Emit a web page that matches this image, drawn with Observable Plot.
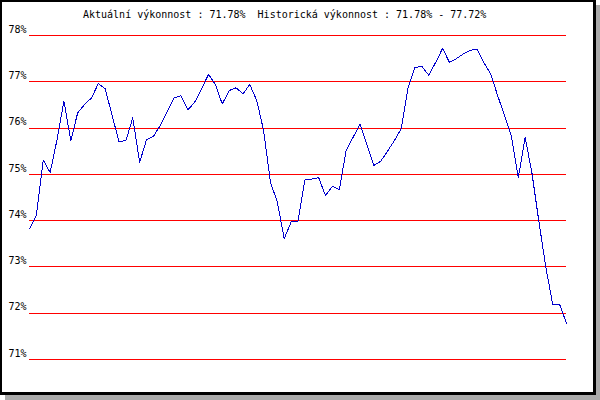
<!DOCTYPE html>
<html>
<head>
<meta charset="utf-8">
<script src="https://cdn.jsdelivr.net/npm/d3@7"></script>
<script src="https://cdn.jsdelivr.net/npm/@observablehq/plot@0.6"></script>
<style>
  html, body { margin: 0; padding: 0; background: #fff; }
  #wrap { position: relative; width: 600px; height: 400px; overflow: hidden; }
  #shadow { position: absolute; left: 5px; top: 5px; width: 595px; height: 395px; background: #aaa; }
  #frame { position: absolute; left: 0; top: 0; width: 596px; height: 395px; box-sizing: border-box;
           border-style: solid; border-color: #000; border-width: 2px 3px 3px 2px; background: #fff; }
  #chart { position: absolute; left: 0; top: 0; }
  #title { position: absolute; left: 83px; top: 9px; font-family: "DejaVu Sans Mono", monospace;
           font-size: 10px; line-height: 11px; letter-spacing: 0; white-space: pre; color: #000; }
</style>
</head>
<body>
<div id="wrap">
  <div id="shadow"></div>
  <div id="frame"></div>
  <div id="chart"></div>
  <div id="title"></div>
</div>
<script>
// Title values
const currentPerf = "71.78";
const histMin = "71.78";
const histMax = "77.72";

// Y axis ticks (%)
const yTicks = [71, 72, 73, 74, 75, 76, 77, 78];

// Performance series (%), one value per period
const perf = [
  73.82, 74.11, 75.31, 75.04, 75.75, 76.58, 75.73, 76.33, 76.51, 76.65,
  76.96, 76.85, 76.27, 75.71, 75.73, 76.22, 75.26, 75.75, 75.82, 76.06,
  76.36, 76.65, 76.70, 76.39, 76.56, 76.85, 77.16, 76.94, 76.52, 76.81,
  76.87, 76.74, 76.94, 76.60, 75.95, 74.83, 74.40, 73.61, 73.97, 73.99,
  74.88, 74.90, 74.93, 74.54, 74.74, 74.67, 75.52, 75.80, 76.08, 75.65,
  75.19, 75.28, 75.50, 75.73, 75.99, 76.88, 77.31, 77.33, 77.14, 77.42,
  77.72, 77.42, 77.50, 77.60, 77.68, 77.70, 77.41, 77.17, 76.70, 76.27,
  75.82, 74.93, 75.80, 75.01, 73.97, 72.99, 72.19, 72.19, 71.78
];

document.getElementById("title").textContent =
  `Aktuální výkonnost : ${currentPerf}%  Historická výkonnost : ${histMin}% - ${histMax}%`;

const chart = Plot.plot({
  width: 596,
  height: 396,
  marginTop: 35,
  marginBottom: 37,
  marginLeft: 29,
  marginRight: 30,
  x: { domain: [0, perf.length - 1], axis: null },
  y: { domain: [71, 78], axis: null },
  style: { background: "transparent", fontFamily: "DejaVu Sans Mono, monospace", fontSize: "10px", color: "#000" },
  marks: [
    Plot.ruleY(yTicks, { stroke: "#ff0000", strokeWidth: 1, shapeRendering: "crispEdges" }),
    Plot.axisY(yTicks, { tickSize: 0, tickPadding: 3, dy: -6, label: null, fill: "#000",
                         tickFormat: d => d + "%" }),
    Plot.lineY(perf, { stroke: "#0000cc", strokeWidth: 1, shapeRendering: "crispEdges" })
  ]
});
document.getElementById("chart").appendChild(chart);
</script>
</body>
</html>
